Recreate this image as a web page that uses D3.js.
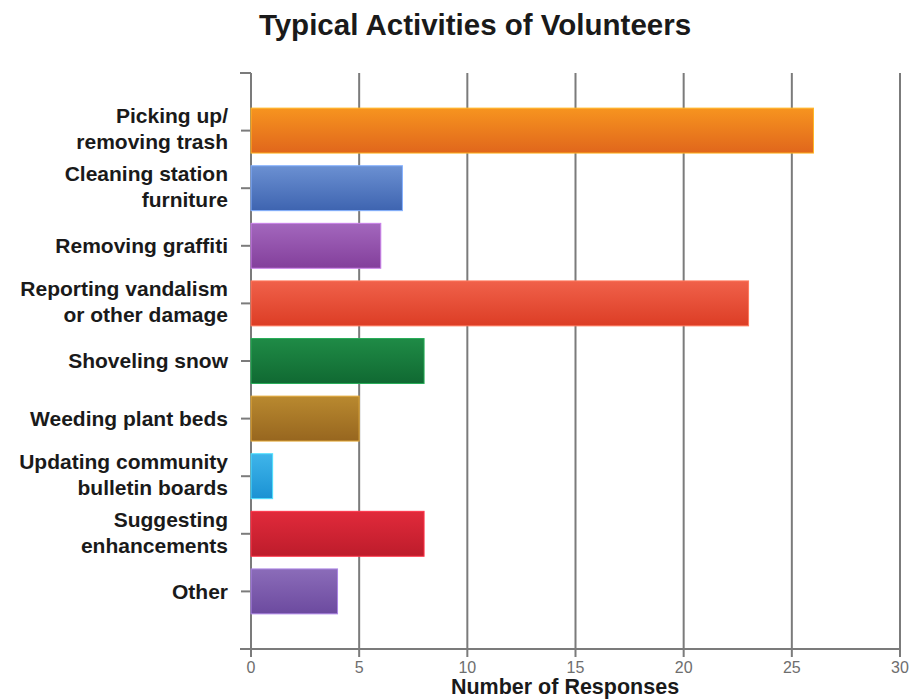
<!DOCTYPE html>
<html>
<head>
<meta charset="utf-8">
<script src="https://cdn.jsdelivr.net/npm/d3@7/dist/d3.min.js"></script>
<style>
  html, body { margin: 0; padding: 0; background: #ffffff; }
  svg { display: block; }
</style>
</head>
<body>
<svg id="chart" width="909" height="700"></svg>
<script>
// Survey responses: typical activities of station volunteers
const categories = [
  ["Picking up/", "removing trash"],
  ["Cleaning station", "furniture"],
  ["Removing graffiti"],
  ["Reporting vandalism", "or other damage"],
  ["Shoveling snow"],
  ["Weeding plant beds"],
  ["Updating community", "bulletin boards"],
  ["Suggesting", "enhancements"],
  ["Other"]
];
const responses = [26, 7, 6, 23, 8, 5, 1, 8, 4];
const xTicks = [0, 5, 10, 15, 20, 25, 30];
// top / bottom gradient stops for each bar
const barTop    = ["#f7941f", "#6b90d2", "#a367bd", "#f0614a", "#1f8b46", "#b9892f", "#3fb5ea", "#e12a3b", "#8b6cb9"];
const barBottom = ["#e0661c", "#3e64b0", "#833f9b", "#dc3d25", "#106932", "#97661f", "#1b92d3", "#bd1c2b", "#6c4a9f"];

const svg = d3.select("#chart");
const plotLeft = 251, plotRight = 900, plotTop = 73, plotBottom = 649;

const x = d3.scaleLinear().domain([0, 30]).range([plotLeft, plotRight]);
const y = d3.scaleBand()
  .domain(d3.range(categories.length))
  .range([plotTop, plotBottom])
  .paddingInner(0.22)
  .paddingOuter(0.61);

// gradients
const defs = svg.append("defs");
responses.forEach((v, i) => {
  const g = defs.append("linearGradient")
    .attr("id", "grad" + i)
    .attr("x1", 0).attr("y1", 0).attr("x2", 0).attr("y2", 1);
  g.append("stop").attr("offset", "0%").attr("stop-color", barTop[i]);
  g.append("stop").attr("offset", "100%").attr("stop-color", barBottom[i]);
});

// title
svg.append("text")
  .attr("x", 475).attr("y", 35)
  .attr("text-anchor", "middle")
  .attr("font-family", "Liberation Sans, Arial, sans-serif")
  .attr("font-weight", "bold")
  .attr("font-size", 29.5)
  .attr("fill", "#1a1a1a")
  .text("Typical Activities of Volunteers");

// vertical grid lines (extend a little below the axis as ticks)
svg.append("g").selectAll("line")
  .data(xTicks)
  .join("line")
  .attr("x1", d => x(d)).attr("x2", d => x(d))
  .attr("y1", plotTop).attr("y2", plotBottom + 8)
  .attr("stroke", "#7b7b7b")
  .attr("stroke-width", 2);

// bottom axis line
svg.append("line")
  .attr("x1", plotLeft - 11).attr("x2", plotRight)
  .attr("y1", plotBottom).attr("y2", plotBottom)
  .attr("stroke", "#7b7b7b").attr("stroke-width", 2);

// top-left tick
svg.append("line")
  .attr("x1", plotLeft - 11).attr("x2", plotLeft)
  .attr("y1", plotTop).attr("y2", plotTop)
  .attr("stroke", "#7b7b7b").attr("stroke-width", 2);

// category ticks
svg.append("g").selectAll("line")
  .data(d3.range(categories.length))
  .join("line")
  .attr("x1", plotLeft - 10).attr("x2", plotLeft)
  .attr("y1", d => y(d) + y.bandwidth() / 2)
  .attr("y2", d => y(d) + y.bandwidth() / 2)
  .attr("stroke", "#7b7b7b").attr("stroke-width", 2);

// bars
svg.append("g").selectAll("rect")
  .data(responses)
  .join("rect")
  .attr("x", x(0))
  .attr("y", (d, i) => y(i))
  .attr("width", d => x(d) - x(0))
  .attr("height", y.bandwidth())
  .attr("fill", (d, i) => `url(#grad${i})`)
  .attr("stroke", (d, i) => d3.color(barTop[i]).brighter(0.6))
  .attr("stroke-width", 1);

// category labels
const lineH = 26;
const labels = svg.append("g")
  .attr("font-family", "Liberation Sans, Arial, sans-serif")
  .attr("font-weight", "bold")
  .attr("font-size", 21)
  .attr("fill", "#1a1a1a")
  .attr("text-anchor", "end");
categories.forEach((lines, i) => {
  const cy = y(i) + y.bandwidth() / 2;
  const t = labels.append("text")
    .attr("x", 228)
    .attr("y", cy - (lines.length - 1) * lineH / 2 - (lines.length - 1) * 1.5);
  lines.forEach((ln, k) => {
    t.append("tspan")
      .attr("x", 228)
      .attr("dy", k === 0 ? "0.35em" : lineH)
      .text(ln);
  });
});

// x tick labels
svg.append("g").selectAll("text")
  .data(xTicks)
  .join("text")
  .attr("x", d => x(d))
  .attr("y", 673)
  .attr("text-anchor", "middle")
  .attr("font-family", "Liberation Sans, Arial, sans-serif")
  .attr("font-size", 16)
  .attr("fill", "#6e6e6e")
  .text(d => d);

// x axis title
svg.append("text")
  .attr("x", 565).attr("y", 694)
  .attr("text-anchor", "middle")
  .attr("font-family", "Liberation Sans, Arial, sans-serif")
  .attr("font-weight", "bold")
  .attr("font-size", 21.5)
  .attr("fill", "#1a1a1a")
  .text("Number of Responses");
</script>
</body>
</html>
